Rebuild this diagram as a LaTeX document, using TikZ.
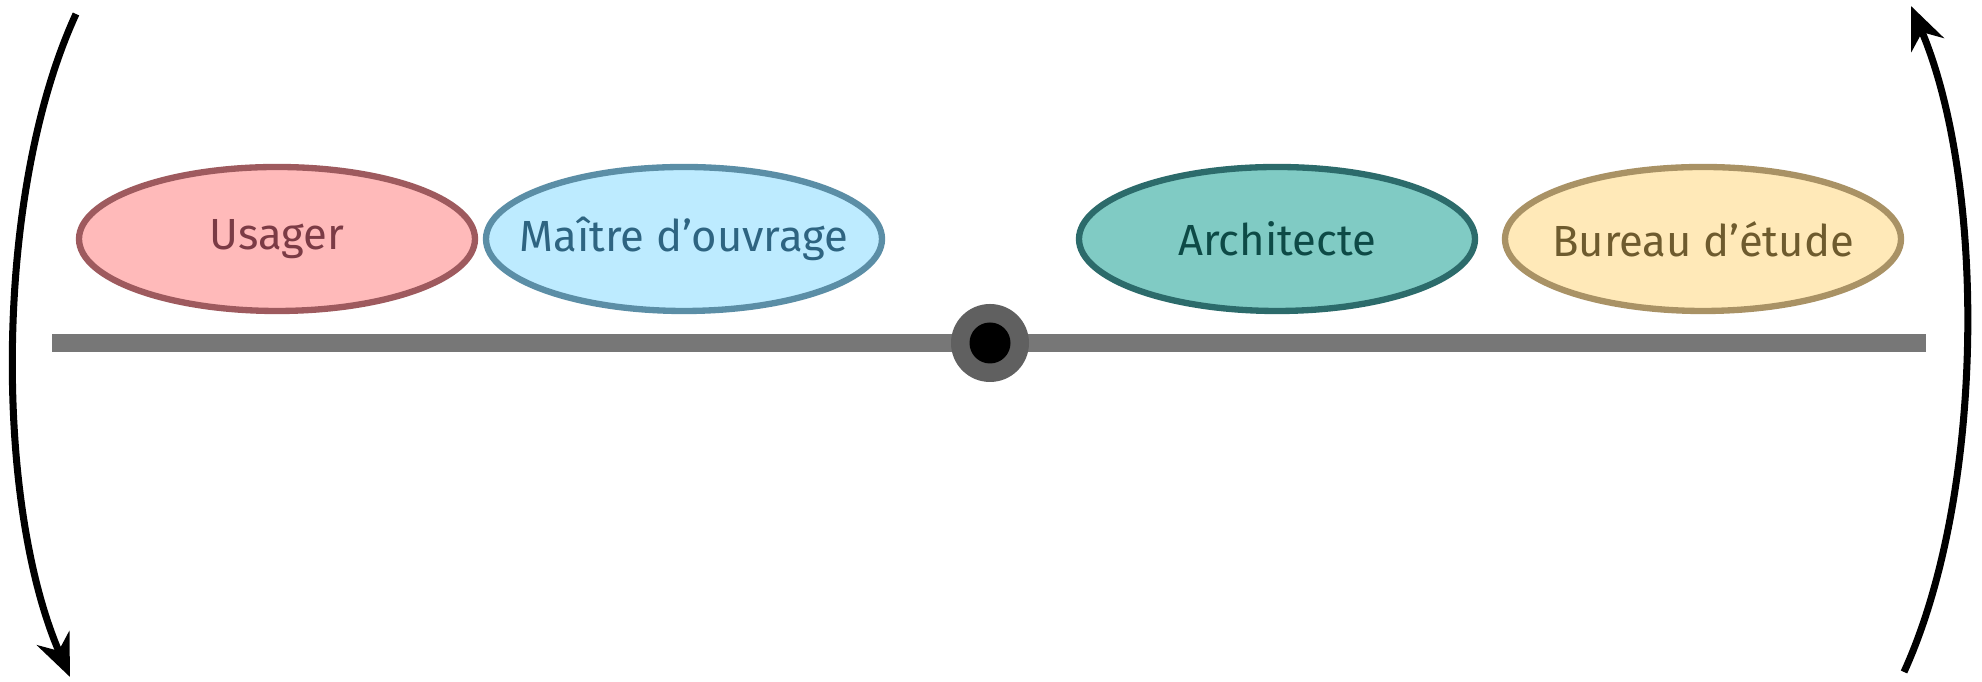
\documentclass[tikz,border=0pt]{standalone}
\usepackage{fontspec}
\setmainfont{Fira Sans}
\usetikzlibrary{arrows.meta, shapes.geometric}
\definecolor{usagerfill}{HTML}{FFBABA}
\definecolor{usagerline}{HTML}{9E5A5E}
\definecolor{usagertext}{HTML}{7B3B45}
\definecolor{moafill}{HTML}{BDEBFF}
\definecolor{moaline}{HTML}{5B8EA6}
\definecolor{moatext}{HTML}{2E6481}
\definecolor{archifill}{HTML}{80CBC4}
\definecolor{archiline}{HTML}{2C6B6B}
\definecolor{architext}{HTML}{0D4A46}
\definecolor{betfill}{HTML}{FFE9B8}
\definecolor{betline}{HTML}{A99265}
\definecolor{bettext}{HTML}{6E5B2E}
\definecolor{axisgray}{HTML}{777777}
\definecolor{pivotgray}{HTML}{606060}
% zero-width label so the ellipse keeps its own size
\newcommand{\actorname}[1]{\makebox[0pt]{#1}}
\begin{document}
\begin{tikzpicture}[
    actor/.style ={ellipse, draw, line width=1.8pt, minimum width=3.96cm,
      minimum height=1.44cm, inner sep=0pt,
      font=\fontsize{12.4}{14}\selectfont},
    turn/.style ={line width=2pt, -{Stealth[length=12pt, width=10pt]}}]
   \useasboundingbox (0,0) rectangle (19.82,6.82);

   \node[actor, fill=usagerfill, draw=usagerline, text=usagertext] (A) at (2.77,4.43) {\actorname{Usager}};
   \node[actor, fill=moafill, draw=moaline, text=moatext] (B) at (6.84,4.43) {\actorname{Maître d’ouvrage}};
   \node[actor, fill=archifill, draw=archiline, text=architext] (C) at (12.77,4.43) {\actorname{Architecte}};
   \node[actor, fill=betfill, draw=betline, text=bettext] (D) at (17.03,4.43) {\actorname{Bureau d’étude}};

   \coordinate (L) at (0.52,3.39);
   \coordinate (R) at (19.26,3.39);
   \draw[axisgray, line width=0.18cm] (L) to (R);
   \node[circle, fill=pivotgray, minimum size=0.78cm, inner sep=0pt] (P) at (9.90,3.39) {};
   \node[circle, fill=black, minimum size=0.41cm, inner sep=0pt] at (P) {};

   \coordinate (E) at (0.76,6.68);
   \coordinate (F) at (0.70,0.05);
   \coordinate (G) at (19.04,0.10);
   \coordinate (H) at (19.11,6.76);
   \draw[turn] (E) .. controls (-0.06,4.9) and (-0.06,1.8) .. (F);
   \draw[turn] (G) .. controls (19.86,1.9) and (19.86,5.0) .. (H);
 \end{tikzpicture}
\end{document}
